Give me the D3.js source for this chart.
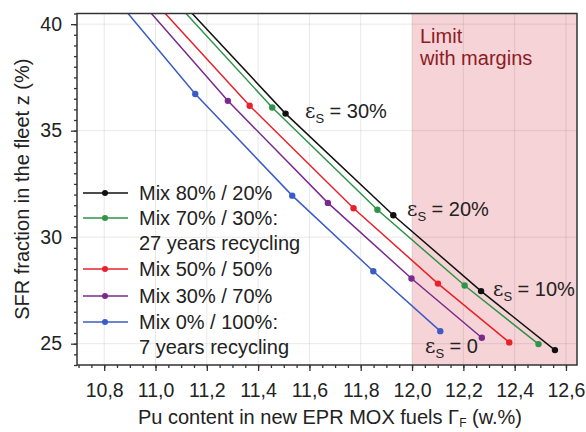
<!DOCTYPE html>
<html>
<head>
<meta charset="utf-8">
<script src="https://cdn.jsdelivr.net/npm/d3@7/dist/d3.min.js"></script>
<style>
  body { margin: 0; background: #fff; }
  svg text { font-family: "Liberation Sans", Arial, sans-serif; fill: #222; }
</style>
</head>
<body>
<div id="chart"></div>
<script>
// values; first point of each series is where the line leaves the top
var xTicks = [10.8, 11.0, 11.2, 11.4, 11.6, 11.8, 12.0, 12.2, 12.4, 12.6];
var yTicks = [25, 30, 35, 40];
var limitStart = 12.0;

var mix80x = [11.143, 11.507, 11.927, 12.269, 12.557];
var mix80y = [40.5, 35.80, 31.03, 27.47, 24.70];
var mix70x = [11.119, 11.455, 11.865, 12.205, 12.493];
var mix70y = [40.5, 36.09, 31.29, 27.73, 24.98];
var mix50x = [11.038, 11.367, 11.772, 12.101, 12.379];
var mix50y = [40.5, 36.17, 31.36, 27.82, 25.06];
var mix30x = [10.984, 11.282, 11.672, 11.998, 12.272];
var mix30y = [40.5, 36.40, 31.61, 28.06, 25.28];
var mix0x  = [10.893, 11.155, 11.533, 11.849, 12.110];
var mix0y  = [40.5, 36.72, 31.95, 28.40, 25.59];

var seriesNames = ['Mix 80% / 20%', 'Mix 70% / 30%:', 'Mix 50% / 50%', 'Mix 30% / 70%', 'Mix 0% / 100%:'];
var seriesNotes = ['', '27 years recycling', '', '', '7 years recycling'];
var seriesColors = ['#111111', '#2e9447', '#e8212b', '#7a2a8c', '#3b5cc4'];

var epsLabels = ['30%', '20%', '10%', '0'];

var width = 586, height = 432;
var margin = {left: 77, right: 9, top: 13.5, bottom: 67};

var x = d3.scaleLinear().domain([10.694, 12.643]).range([margin.left, width - margin.right]);
var y = d3.scaleLinear().domain([24.0, 40.5]).range([height - margin.bottom, margin.top]);

var svg = d3.select('#chart').append('svg')
    .attr('width', width)
    .attr('height', height);

svg.append('defs').append('clipPath').attr('id', 'plot-clip')
  .append('rect')
    .attr('x', x.range()[0]).attr('y', y.range()[1])
    .attr('width', x.range()[1] - x.range()[0])
    .attr('height', y.range()[0] - y.range()[1]);

// limit zone
svg.append('rect')
    .attr('x', x(limitStart))
    .attr('y', y.range()[1])
    .attr('width', x.range()[1] - x(limitStart))
    .attr('height', y.range()[0] - y.range()[1])
    .attr('fill', '#f6d3d6');

// grid
svg.append('g').selectAll('line').data(xTicks).join('line')
    .attr('x1', d => x(d)).attr('x2', d => x(d))
    .attr('y1', y.range()[0]).attr('y2', y.range()[1])
    .attr('stroke', 'rgba(0,0,0,0.09)');
svg.append('g').selectAll('line').data(yTicks).join('line')
    .attr('y1', d => y(d)).attr('y2', d => y(d))
    .attr('x1', x.range()[0]).attr('x2', x.range()[1])
    .attr('stroke', 'rgba(0,0,0,0.09)');

svg.append('text')
    .attr('x', 420).attr('y', 43)
    .style('font-size', '20px').style('fill', '#8c1b25')
    .text('Limit');
svg.append('text')
    .attr('x', 420).attr('y', 65)
    .style('font-size', '20px').style('fill', '#8c1b25')
    .text('with margins');

// axes
var fmt = d => d3.format('.1f')(d).replace('.', ',');
var xMinor = d3.range(10.70, 12.6401, 0.05);
var yMinor = d3.range(24.0, 40.501, 0.5);

var xMinorAxis = d3.axisBottom(x).tickValues(xMinor).tickSize(3).tickFormat('');
var xAxis = d3.axisBottom(x).tickValues(xTicks).tickSize(6).tickPadding(12).tickFormat(fmt);
var yMinorAxis = d3.axisLeft(y).tickValues(yMinor).tickSize(3).tickFormat('');
var yAxis = d3.axisLeft(y).tickValues(yTicks).tickSize(6).tickPadding(9).tickFormat(d3.format('d'));

[xMinorAxis, xAxis].forEach(function(a) {
  var g = svg.append('g').attr('transform', 'translate(0,' + y.range()[0] + ')').call(a);
  g.select('.domain').remove();
  g.selectAll('line').attr('stroke', '#333').attr('stroke-width', 1.3);
  g.selectAll('text').style('font-size', '19.5px').attr('fill', '#222');
});
[yMinorAxis, yAxis].forEach(function(a) {
  var g = svg.append('g').attr('transform', 'translate(' + x.range()[0] + ',0)').call(a);
  g.select('.domain').remove();
  g.selectAll('line').attr('stroke', '#333').attr('stroke-width', 1.3);
  g.selectAll('text').style('font-size', '19.5px').attr('fill', '#222');
});

// series
var allX = [mix80x, mix70x, mix50x, mix30x, mix0x];
var allY = [mix80y, mix70y, mix50y, mix30y, mix0y];
var series = allX.map(function(xs, i) {
  return {
    name: seriesNames[i],
    color: seriesColors[i],
    points: xs.map(function(v, j) { return {x: v, y: allY[i][j], marked: j > 0}; })
  };
});

var line = d3.line().x(d => x(d.x)).y(d => y(d.y));
var plot = svg.append('g').attr('clip-path', 'url(#plot-clip)');

series.slice().reverse().forEach(function(s) {
  plot.append('path')
      .datum(s.points)
      .attr('d', line)
      .attr('fill', 'none')
      .attr('stroke', s.color)
      .attr('stroke-width', 1.5);
  plot.selectAll(null).data(s.points.filter(p => p.marked)).join('circle')
      .attr('cx', d => x(d.x)).attr('cy', d => y(d.y))
      .attr('r', 3.2)
      .attr('fill', s.color);
});

// frame
svg.append('rect')
    .attr('x', x.range()[0]).attr('y', y.range()[1])
    .attr('width', x.range()[1] - x.range()[0])
    .attr('height', y.range()[0] - y.range()[1])
    .attr('fill', 'none')
    .attr('stroke', '#333')
    .attr('stroke-width', 1.5);

// epsilon labels
var epsPos = [[305, 118], [407, 216], [493, 296], [425, 353]];
epsPos.forEach(function(p, i) {
  var t = svg.append('text').attr('x', p[0]).attr('y', p[1]).style('font-size', '20px');
  t.append('tspan').text('ε').style('font-family', '"DejaVu Serif", serif');
  t.append('tspan').text('S').attr('dy', 5).style('font-size', '13px');
  t.append('tspan').text(' = ' + epsLabels[i]).attr('dy', -5);
});

// legend
var legendRows = [193, 218, 269, 296, 322];
var legend = svg.append('g');
series.forEach(function(s, i) {
  var ly = legendRows[i];
  legend.append('line')
      .attr('x1', 83).attr('x2', 128).attr('y1', ly).attr('y2', ly)
      .attr('stroke', s.color).attr('stroke-width', 1.5);
  legend.append('circle').attr('cx', 105).attr('cy', ly).attr('r', 3).attr('fill', s.color);
  legend.append('text').attr('x', 139).attr('y', ly + 7).style('font-size', '20px').text(s.name);
  if (seriesNotes[i]) {
    legend.append('text').attr('x', 139).attr('y', ly + 32).style('font-size', '20px').text(seriesNotes[i]);
  }
});

// axis titles
var xt = svg.append('text')
    .attr('x', 330).attr('y', 424)
    .attr('text-anchor', 'middle')
    .style('font-size', '20px');
xt.append('tspan').text('Pu content in new EPR MOX fuels Γ');
xt.append('tspan').text('F').attr('dy', 3).style('font-size', '12px');
xt.append('tspan').text(' (w.%)').attr('dy', -3);

svg.append('text')
    .attr('transform', 'translate(29,' + (y.range()[0] + y.range()[1]) / 2 + ') rotate(-90)')
    .attr('text-anchor', 'middle')
    .style('font-size', '20px')
    .text('SFR fraction in the fleet z (%)');
</script>
</body>
</html>
